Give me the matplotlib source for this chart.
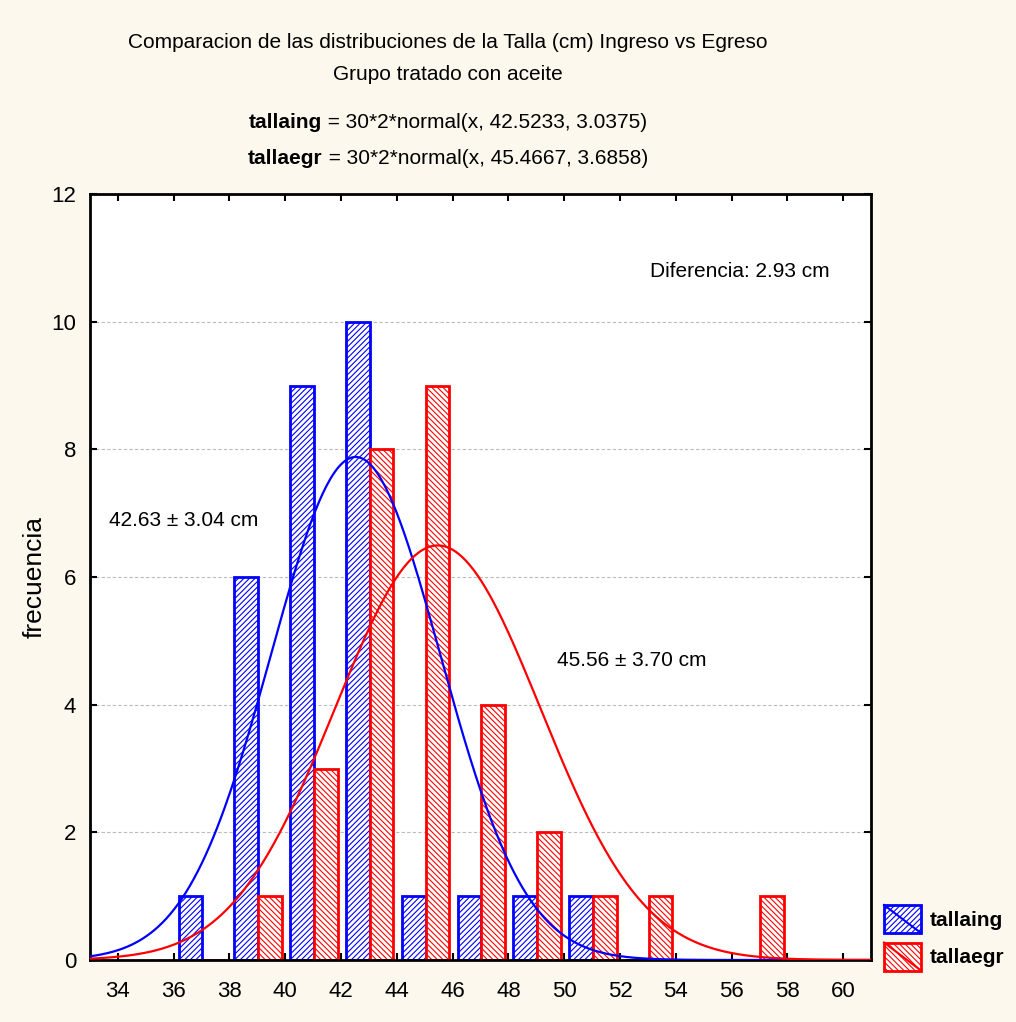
import numpy as np
import matplotlib
matplotlib.use("Agg")
import matplotlib.pyplot as plt
from matplotlib.patches import Rectangle
from matplotlib.lines import Line2D
from matplotlib.legend_handler import HandlerBase
from matplotlib.patches import Patch

plt.rcParams['font.family'] = ['Liberation Sans', 'DejaVu Sans']
plt.rcParams['hatch.linewidth'] = 0.8

# ---- data ----
bin_edges = [36, 38, 40, 42, 44, 46, 48, 50, 52, 54, 56]
tallaing_counts = [1, 6, 9, 10, 1, 1, 1, 1, 0, 0, 0]
tallaegr_counts = [0, 1, 3, 8, 9, 4, 2, 1, 1, 0, 1]
series_names = ["tallaing", "tallaegr"]
means = [42.5233, 45.4667]
sds = [3.0375, 3.6858]
n_obs = 30
bin_width = 2
xticks = list(range(34, 62, 2))
yticks = list(range(0, 14, 2))
annot_diff = "Diferencia: 2.93 cm"
annot_ing = "42.63 ± 3.04 cm"
annot_egr = "45.56 ± 3.70 cm"

BG = "#FDF8EE"
fig = plt.figure(figsize=(10.16, 10.22), dpi=100, facecolor=BG)
ax = fig.add_axes([90/1016, 1-960/1022, (871-90)/1016, (960-194)/1022])
ax.set_facecolor("white")

edges = np.array(bin_edges, dtype=float)
bw = 0.85
ax.bar(edges + 0.18, tallaing_counts, width=bw, align='edge', facecolor='white',
       edgecolor='#0000FF', hatch='//////', linewidth=2, zorder=2)
ax.bar(edges + 0.18 + bw, tallaegr_counts, width=bw, align='edge', facecolor='white',
       edgecolor='#FF0000', hatch='\\\\\\\\\\\\', linewidth=2, zorder=2)

xs = np.linspace(33, 61, 400)
for m, s, c in zip(means, sds, ['#0000FF', '#FF0000']):
    ys = n_obs * bin_width * np.exp(-0.5 * ((xs - m) / s) ** 2) / (s * np.sqrt(2 * np.pi))
    ax.plot(xs, ys, color=c, lw=1.6, zorder=3)

ax.set_xlim(33, 61)
ax.set_ylim(0, 12)
ax.set_xticks(xticks)
ax.set_yticks(yticks)
ax.tick_params(direction='in', length=5, width=1.5, top=True, right=True,
               labelsize=16)
ax.tick_params(axis='x', pad=15)
ax.tick_params(axis='y', pad=10)
for sp in ax.spines.values():
    sp.set_linewidth(2)
for yv in yticks[1:-1]:
    ax.axhline(yv, color='#BBBBBB', lw=0.8, ls=(0, (3, 2)), zorder=1)

ax.set_ylabel("frecuencia", fontsize=19, labelpad=3)

ax.text(53.09, 10.79, annot_diff, fontsize=15, va='center', ha='left')
ax.text(33.68, 6.89, annot_ing, fontsize=15, va='center', ha='left')
ax.text(49.76, 4.69, annot_egr, fontsize=15, va='center', ha='left')

# Titles
cx = 448/1016
fig.text(cx, 1-42/1022, "Comparacion de las distribuciones de la Talla (cm) Ingreso vs Egreso",
         ha='center', va='center', fontsize=15)
fig.text(cx, 1-75/1022, "Grupo tratado con aceite", ha='center', va='center', fontsize=15)

renderer = fig.canvas.get_renderer()
for i, (name, m, s) in enumerate(zip(series_names, means, sds)):
    yy = 1 - (123 + 35*i)/1022
    t1 = fig.text(0, yy, name, fontsize=15, fontweight='bold', va='center', ha='left')
    t2 = fig.text(0, yy, f" = {n_obs}*{bin_width}*normal(x, {m:.4f}, {s:.4f})",
                  fontsize=15, va='center', ha='left')
    w1 = t1.get_window_extent(renderer).width / fig.bbox.width
    w2 = t2.get_window_extent(renderer).width / fig.bbox.width
    x0 = cx - (w1 + w2) / 2
    t1.set_x(x0)
    t2.set_x(x0 + w1)

class HatchBoxHandler(HandlerBase):
    def create_artists(self, legend, orig_handle, xdescent, ydescent, width, height, fontsize, trans):
        r = Rectangle((-xdescent, -ydescent), width, height, facecolor='white',
                      edgecolor=orig_handle.get_edgecolor(), hatch=orig_handle.get_hatch(),
                      lw=2, transform=trans)
        l = Line2D([-xdescent, -xdescent + width], [-ydescent + height, -ydescent],
                   color=orig_handle.get_edgecolor(), lw=1.5, transform=trans)
        return [r, l]

handles = [Patch(edgecolor='#0000FF', hatch='//////'), Patch(edgecolor='#FF0000', hatch='\\\\\\\\\\\\')]
leg = fig.legend(handles, series_names, loc='upper left', bbox_to_anchor=(884/1016, 1-905/1022),
                 frameon=False, handler_map={Patch: HatchBoxHandler()},
                 prop={'weight': 'bold', 'size': 15}, handlelength=1.78, handleheight=1.7,
                 handletextpad=0.43, labelspacing=0.45, borderaxespad=0, borderpad=0)

fig.savefig("out.png", dpi=100, facecolor=BG)
